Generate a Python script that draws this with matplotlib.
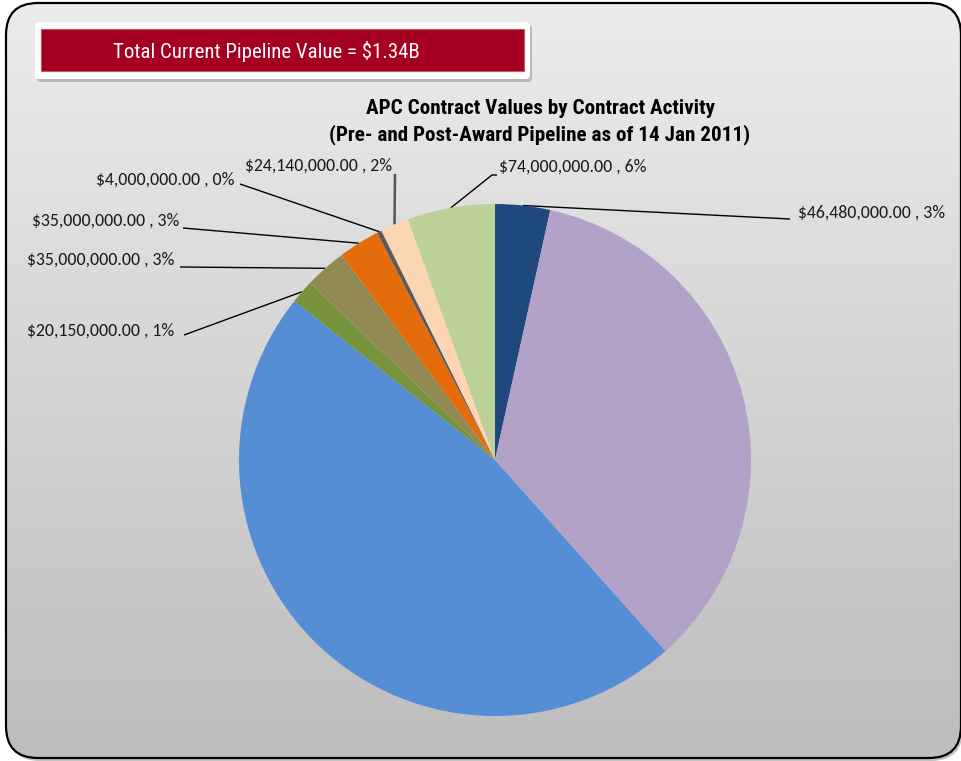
import numpy as np
import matplotlib
matplotlib.use("Agg")
import matplotlib.pyplot as plt
from matplotlib.patches import FancyBboxPatch, Rectangle
from matplotlib import font_manager as fm

# ---------------- data ----------------
values = [46480000.00, 468648000.00, 633474000.00, 20150000.00, 35000000.00,
          35000000.00, 4000000.00, 24140000.00, 74000000.00]
pct_labels = ["3%", "35%", "47%", "1%", "3%", "3%", "0%", "2%", "6%"]
colors = ["#1f497d", "#b3a2c7", "#558ed5", "#77933c", "#948a54",
          "#e46c0a", "#595959", "#fcd5b5", "#bcd09a"]
title_lines = ["APC Contract Values by Contract Activity",
               "(Pre- and Post-Award Pipeline as of 14 Jan 2011)"]
banner_text = "Total Current Pipeline Value = $1.34B"

labels = [f"${v:,.2f} , {p}" for v, p in zip(values, pct_labels)]

# ---------------- fonts ----------------
avail = {f.name for f in fm.fontManager.ttflist}
narrow = [f for f in ["Roboto Condensed", "PT Sans Narrow", "Liberation Sans", "DejaVu Sans"] if f in avail]
lab_font = [f for f in ["Carlito", "Lato", "Liberation Sans", "DejaVu Sans"] if f in avail]
lab_size = 12.8 if lab_font and lab_font[0] == "Carlito" else 12.4

W, H = 961, 761
fig = plt.figure(figsize=(W / 100, H / 100), dpi=100)
fig.patch.set_facecolor("white")

bg = fig.add_axes([0, 0, 1, 1])
bg.set_xlim(0, W)
bg.set_ylim(H, 0)
bg.axis("off")

# frame with gradient
fx0, fy0, fx1, fy1 = 6, 3, 961, 758
shadow = FancyBboxPatch((fx0 + 2, fy0 + 3), fx1 - fx0, fy1 - fy0,
                        boxstyle="round,pad=0,rounding_size=32",
                        fc="#9a9a9a", ec="none", alpha=0.6, zorder=0)
bg.add_patch(shadow)
frame = FancyBboxPatch((fx0, fy0), fx1 - fx0, fy1 - fy0,
                       boxstyle="round,pad=0,rounding_size=32",
                       fc="none", ec="black", lw=1.6, zorder=3)
bg.add_patch(frame)
grad = np.linspace(236, 189, 256).reshape(-1, 1) / 255.0
im = bg.imshow(np.dstack([grad, grad, grad]), extent=(fx0, fx1, fy1, fy0),
               aspect="auto", zorder=1, interpolation="bilinear")
clipper = FancyBboxPatch((fx0, fy0), fx1 - fx0, fy1 - fy0,
                         boxstyle="round,pad=0,rounding_size=32",
                         fc="none", ec="none", transform=bg.transData)
bg.add_patch(clipper)
im.set_clip_path(clipper)
bg.set_xlim(0, W)
bg.set_ylim(H, 0)

# banner
bg.add_patch(FancyBboxPatch((37, 25), 495, 57, boxstyle="round,pad=0,rounding_size=4",
                            fc="#8c8c8c", ec="none", alpha=0.5, zorder=4))
bg.add_patch(FancyBboxPatch((35, 22), 495, 57, boxstyle="round,pad=0,rounding_size=4",
                            fc="white", ec="none", zorder=5))
bg.add_patch(Rectangle((41, 29), 483, 42, fc="#a50021", ec="#c8546a", lw=0.8, zorder=6))
bg.text(266, 51, banner_text, color="white", fontsize=15, family=narrow,
        ha="center", va="center", zorder=7)

# title
bg.text(540, 109, title_lines[0], fontsize=15.2, fontweight="bold", family=narrow,
        ha="center", va="center", color="black", zorder=7)
bg.text(540, 135, title_lines[1], fontsize=15.2, fontweight="bold", family=narrow,
        ha="center", va="center", color="black", zorder=7)

# pie
cx, cy, R = 495, 460, 256
ax = fig.add_axes([(cx - R) / W, (H - cy - R) / H, 2 * R / W, 2 * R / H])
wedges, _ = ax.pie(values, colors=colors, startangle=90, counterclock=False,
                   radius=1, wedgeprops=dict(linewidth=0))
ax.set_xlim(-1, 1)
ax.set_ylim(-1, 1)
ax.set_aspect("auto")
ax.axis("off")
ax.set_zorder(4)
bg.set_zorder(2)


def anchor(w):
    a = np.deg2rad((w.theta1 + w.theta2) / 2)
    return cx + R * np.cos(a), cy - R * np.sin(a)


# label layout: (text x, text y, ha, elbow points)
layout = {
    0: (798, 213, "left", [(790, 219)]),
    8: (499, 167, "left", [(492, 175), (497, 175)]),
    7: (392, 166, "right", [(395, 174)]),
    6: (234, 180, "right", [(240, 184)]),
    5: (179, 221, "right", [(183, 228)]),
    4: (174, 260, "right", [(180, 267)]),
    3: (174, 331, "right", [(184, 335)]),
}
line_colors = {7: "#555555"}
for i, (tx, ty, ha, pts) in layout.items():
    ax0, ay0 = anchor(wedges[i])
    xs = [ax0] + [p[0] for p in pts]
    ys = [ay0] + [p[1] for p in pts]
    bg.plot(xs, ys, color=line_colors.get(i, "black"),
            lw=1.8 if i == 7 else 1.0, zorder=8, solid_capstyle="butt")
    bg.text(tx, ty, labels[i], fontsize=lab_size, family=lab_font, ha=ha, va="center",
            color="#1a1a1a", zorder=8)

# inside labels
bg.text(657, 440, labels[1], fontsize=lab_size, family=lab_font, ha="center", va="center",
        color="#1a1a1a", zorder=8)
bg.text(357, 526, labels[2], fontsize=lab_size, family=lab_font, ha="center", va="center",
        color="#1a1a1a", zorder=8)

fig.savefig("out.png", dpi=100, facecolor="white")
